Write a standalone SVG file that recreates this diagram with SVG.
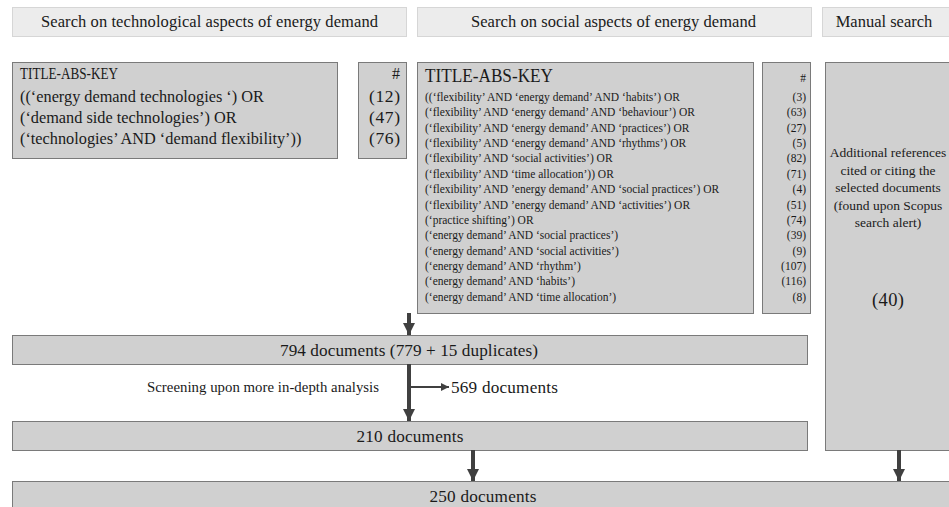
<svg xmlns="http://www.w3.org/2000/svg" width="949" height="507" viewBox="0 0 949 507" font-family="'Liberation Serif', 'DejaVu Serif', serif">
<defs>
<style>
.hdr{fill:#ececec;stroke:#d6d6d6;stroke-width:1}
.box{fill:#d0d0d0;stroke:#7a7a7a;stroke-width:1}
text{font-family:'Liberation Serif','DejaVu Serif',serif;fill:#1a1a1a}
.h{font-size:16.5px}
.t16{font-size:16.3px}
.big{font-size:17.2px}
.sm{font-size:11.5px}
.rt{font-size:13.5px;text-anchor:middle}
.num{font-size:17.5px;text-anchor:end}
.nsm{font-size:11.5px;text-anchor:end}
.c{text-anchor:middle}
.arr{stroke:#404040;stroke-width:4;fill:none}
.thin{stroke:#404040;stroke-width:2;fill:none}
</style>
<marker id="ah" viewBox="0 0 10 10" refX="10" refY="5" markerWidth="3" markerHeight="3" orient="auto" markerUnits="strokeWidth">
<path d="M0,0 L10,5 L0,10 z" fill="#404040"/>
</marker>
<marker id="ahs" viewBox="0 0 10 10" refX="10" refY="5" markerWidth="5" markerHeight="4" orient="auto" markerUnits="strokeWidth">
<path d="M0,0 L10,5 L0,10 z" fill="#404040"/>
</marker>
</defs>
<rect width="949" height="507" fill="#ffffff"/>

<g id="header-tech">
<rect class="hdr" x="12.5" y="7.5" width="394" height="29"/>
<text class="h" x="41" y="27" textLength="337">Search on technological aspects of energy demand</text>
</g>
<g id="header-social">
<rect class="hdr" x="417.5" y="7.5" width="394" height="29"/>
<text class="h" x="471" y="27" textLength="285">Search on social aspects of energy demand</text>
</g>
<g id="header-manual">
<rect class="hdr" x="822.5" y="7.5" width="140" height="29"/>
<text class="h c" x="884" y="27">Manual search</text>
</g>

<g id="tech-query">
<rect class="box" x="12.5" y="62.5" width="325" height="96"/>
<text class="t16" x="20" y="79" textLength="98" lengthAdjust="spacingAndGlyphs">TITLE-ABS-KEY</text>
<text class="t16" x="20" y="102">((‘energy demand technologies ‘) OR</text>
<text class="t16" x="20" y="123">(‘demand side technologies’) OR</text>
<text class="t16" x="20" y="144">(‘technologies’ AND ‘demand flexibility’))</text>
</g>
<g id="tech-counts">
<rect class="box" x="358.5" y="62.5" width="48" height="96"/>
<text class="num" x="400" y="79" style="font-size:16px">#</text>
<text class="num" x="400" y="102" textLength="31">(12)</text>
<text class="num" x="400" y="123" textLength="31">(47)</text>
<text class="num" x="400" y="144" textLength="31">(76)</text>
</g>

<g id="social-query">
<rect class="box" x="417.5" y="62.5" width="336" height="251"/>
<text x="425" y="82" style="font-size:19px" textLength="128" lengthAdjust="spacingAndGlyphs">TITLE-ABS-KEY</text>
<text class="sm" x="425" y="101">((‘flexibility’ AND ‘energy demand’ AND ‘habits’) OR</text>
<text class="sm" x="425" y="116.4">(‘flexibility’ AND ‘energy demand’ AND ‘behaviour’) OR</text>
<text class="sm" x="425" y="131.7">(‘flexibility’ AND ‘energy demand’ AND ‘practices’) OR</text>
<text class="sm" x="425" y="147.1">(‘flexibility’ AND ‘energy demand’ AND ‘rhythms’) OR</text>
<text class="sm" x="425" y="162.4">(‘flexibility’ AND ‘social activities’) OR</text>
<text class="sm" x="425" y="177.8">(‘flexibility’ AND ‘time allocation’)) OR</text>
<text class="sm" x="425" y="193.1">(‘flexibility’ AND ’energy demand’ AND ‘social practices’) OR</text>
<text class="sm" x="425" y="208.5">(‘flexibility’ AND ’energy demand’ AND ‘activities’) OR</text>
<text class="sm" x="425" y="223.8">(‘practice shifting’) OR</text>
<text class="sm" x="425" y="239.2">(‘energy demand’ AND ‘social practices’)</text>
<text class="sm" x="425" y="254.5">(‘energy demand’ AND ‘social activities’)</text>
<text class="sm" x="425" y="269.9">(‘energy demand’ AND ‘rhythm’)</text>
<text class="sm" x="425" y="285.2">(‘energy demand’ AND ‘habits’)</text>
<text class="sm" x="425" y="300.6">(‘energy demand’ AND ‘time allocation’)</text>
</g>
<g id="social-counts">
<rect class="box" x="762.5" y="62.5" width="48" height="251"/>
<text class="nsm" x="806" y="82">#</text>
<text class="nsm" x="806" y="101">(3)</text>
<text class="nsm" x="806" y="116.4">(63)</text>
<text class="nsm" x="806" y="131.7">(27)</text>
<text class="nsm" x="806" y="147.1">(5)</text>
<text class="nsm" x="806" y="162.4">(82)</text>
<text class="nsm" x="806" y="177.8">(71)</text>
<text class="nsm" x="806" y="193.1">(4)</text>
<text class="nsm" x="806" y="208.5">(51)</text>
<text class="nsm" x="806" y="223.8">(74)</text>
<text class="nsm" x="806" y="239.2">(39)</text>
<text class="nsm" x="806" y="254.5">(9)</text>
<text class="nsm" x="806" y="269.9">(107)</text>
<text class="nsm" x="806" y="285.2">(116)</text>
<text class="nsm" x="806" y="300.6">(8)</text>
</g>

<g id="manual">
<rect class="box" x="825.5" y="62.5" width="130" height="388"/>
<text class="rt" x="888" y="157">Additional references</text>
<text class="rt" x="888" y="174.5">cited or citing the</text>
<text class="rt" x="888" y="192">selected documents</text>
<text class="rt" x="888" y="209.5">(found upon Scopus</text>
<text class="rt" x="888" y="227">search alert)</text>
<text class="c" x="888" y="306" style="font-size:18.5px" textLength="32">(40)</text>
</g>

<g id="docs-794">
<rect class="box" x="12.5" y="335.5" width="795" height="29"/>
<text class="big c" x="409" y="355.5" textLength="258">794 documents (779 + 15 duplicates)</text>
</g>
<g id="docs-210">
<rect class="box" x="12.5" y="421.5" width="795" height="29"/>
<text class="big c" x="410" y="441.5" textLength="107">210 documents</text>
</g>
<g id="docs-250">
<rect class="box" x="12.5" y="481.5" width="945" height="40"/>
<text class="big c" x="483" y="501.5" textLength="107">250 documents</text>
</g>

<g id="connectors">
<line class="arr" x1="409" y1="313" x2="409" y2="335" marker-end="url(#ah)"/>
<line class="arr" x1="409" y1="364" x2="409" y2="421" marker-end="url(#ah)"/>
<line class="thin" x1="409" y1="387" x2="449" y2="387" marker-end="url(#ahs)"/>
<line class="arr" x1="473" y1="450" x2="473" y2="481" marker-end="url(#ah)"/>
<line class="arr" x1="899" y1="450" x2="899" y2="481" marker-end="url(#ah)"/>
</g>

<text x="147" y="392" style="font-size:14.8px" textLength="232">Screening upon more in-depth analysis</text>
<text class="big" x="451" y="393" textLength="107">569 documents</text>
</svg>
